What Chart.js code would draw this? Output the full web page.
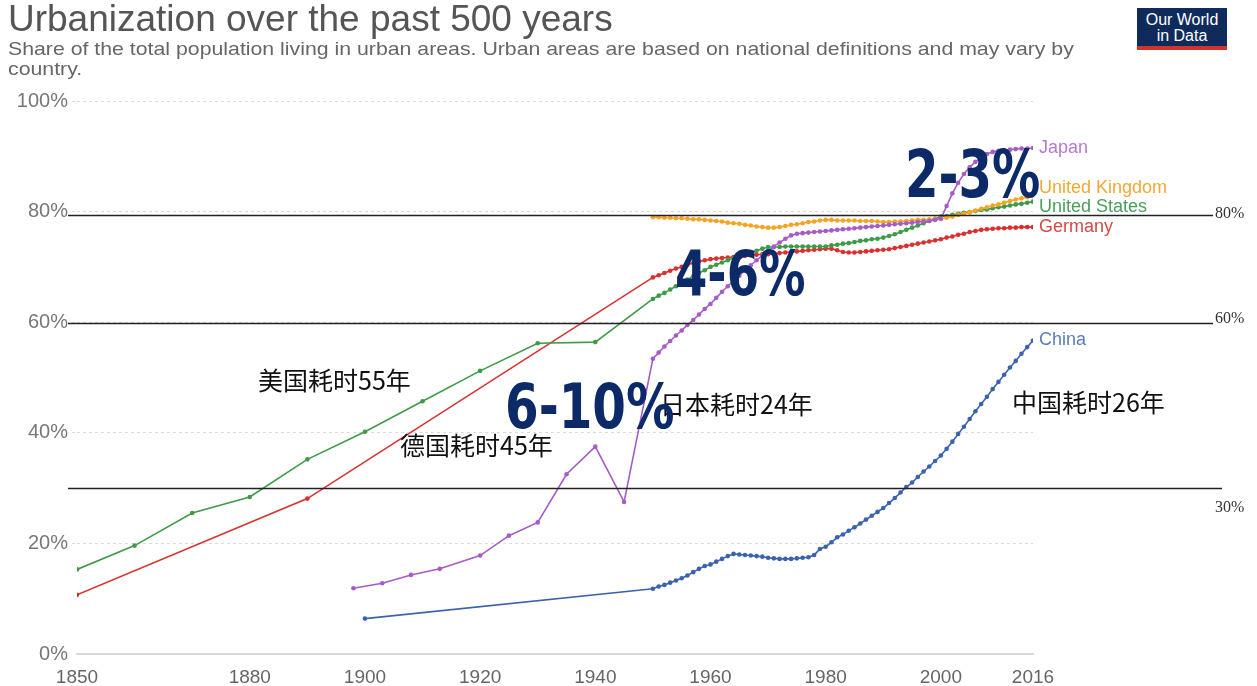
<!DOCTYPE html>
<html>
<head>
<meta charset="utf-8">
<script src="https://cdn.jsdelivr.net/npm/chart.js@4.4.1/dist/chart.umd.min.js"></script>
<style>
html, body { margin: 0; padding: 0; background: #fff; }
#wrap { position: relative; width: 1257px; height: 686px; overflow: hidden; }
#chart-area { position: absolute; left: 0; top: 0; }
.t { position: absolute; white-space: nowrap; }
#title { left: 8px; top: 0px; font: 37px/1 "Liberation Sans", Arial, sans-serif; color: #555; }
#sub { left: 8px; top: 39px; font: 19px/20px "Liberation Sans", Arial, sans-serif; color: #666; transform: scaleX(1.12); transform-origin: 0 0; }
#logo { left: 1137px; top: 8px; width: 90px; height: 42px; background: #0f2b5b; border-bottom: 4px solid #d4332a;
        color: #fff; font: 16px/16px "Liberation Sans", Arial, sans-serif; padding: 4px 0 0 0; text-align: center; box-sizing: border-box; }
.cn { font: 25px/1 "Noto Sans CJK SC", sans-serif; color: #111; }
.big { font: bold 62px/1 "DejaVu Sans", sans-serif; color: #0c2a68; transform-origin: 0 0; }
</style>
</head>
<body>
<div id="wrap">
  <canvas id="chart-area" width="1257" height="686"></canvas>
  <div class="t" id="title">Urbanization over the past 500 years</div>
  <div class="t" id="sub">Share of the total population living in urban areas. Urban areas are based on national definitions and may vary by<br>country.</div>
  <div class="t" id="logo">Our World<br>in Data</div>
  <div class="t cn" style="left:258px;top:367px">美国耗时55年</div>
  <div class="t cn" style="left:400px;top:432px">德国耗时45年</div>
  <div class="t cn" style="left:660px;top:391px">日本耗时24年</div>
  <div class="t cn" style="left:1012px;top:389px">中国耗时26年</div>
  <div class="t big" style="left:505px;top:376px;transform:scaleX(0.78)">6-10%</div>
  <div class="t big" style="left:675px;top:243px;transform:scaleX(0.75)">4-6%</div>
  <div class="t big" style="left:905px;top:142px;font-size:66px;transform:scaleX(0.73)">2-3%</div>
</div>
<script>
// x ticks shown on the axis
var xTickYears = [1850, 1880, 1900, 1920, 1940, 1960, 1980, 2000, 2016];

// yearly points from 1950 on
var annualYears = [1950,1951,1952,1953,1954,1955,1956,1957,1958,1959,1960,1961,1962,1963,1964,1965,1966,1967,1968,1969,
  1970,1971,1972,1973,1974,1975,1976,1977,1978,1979,1980,1981,1982,1983,1984,1985,1986,1987,1988,1989,
  1990,1991,1992,1993,1994,1995,1996,1997,1998,1999,2000,2001,2002,2003,2004,2005,2006,2007,2008,2009,
  2010,2011,2012,2013,2014,2015,2016];

var japanEarlyYears = [1898, 1903, 1908, 1913, 1920, 1925, 1930, 1935, 1940, 1945];
var japanEarly = [11.9, 12.8, 14.3, 15.4, 17.8, 21.4, 23.8, 32.5, 37.5, 27.5];
var japanAnnual = [53.4,54.5,55.6,56.6,57.6,58.5,59.5,60.4,61.4,62.4,
  63.3,64.4,65.5,66.5,67.5,68.4,69.4,70.3,71.2,72.1,
  72.9,73.7,74.4,75.1,75.7,76.0,76.1,76.2,76.3,76.4,
  76.5,76.6,76.7,76.8,76.9,77.0,77.1,77.2,77.3,77.4,
  77.5,77.6,77.7,77.8,77.9,78.0,78.1,78.2,78.3,78.5,
  78.7,81.0,83.3,85.2,86.8,88.0,89.0,89.8,90.4,90.8,
  91.0,91.1,91.2,91.3,91.4,91.4,91.5];

var ukAnnual = [79.0,79.0,78.9,78.9,78.8,78.8,78.7,78.6,78.6,78.5,
  78.4,78.3,78.2,78.0,77.9,77.8,77.6,77.5,77.3,77.2,
  77.1,77.1,77.2,77.4,77.6,77.7,77.9,78.1,78.2,78.4,
  78.5,78.5,78.4,78.4,78.4,78.4,78.3,78.3,78.3,78.2,
  78.1,78.1,78.2,78.2,78.3,78.4,78.5,78.5,78.6,78.7,
  78.7,78.9,79.1,79.4,79.6,79.9,80.2,80.5,80.8,81.1,
  81.3,81.6,81.9,82.2,82.4,82.6,82.8];

var usEarlyYears = [1850, 1860, 1870, 1880, 1890, 1900, 1910, 1920, 1930, 1940];
var usEarly = [15.3, 19.6, 25.5, 28.4, 35.2, 40.2, 45.7, 51.2, 56.2, 56.4];
var usAnnual = [64.2,64.8,65.3,65.9,66.5,67.1,67.7,68.3,68.9,69.4,
  70.0,70.4,70.8,71.2,71.6,71.9,72.3,72.6,72.9,73.3,
  73.6,73.6,73.6,73.7,73.7,73.7,73.7,73.7,73.7,73.7,
  73.7,73.9,74.0,74.2,74.3,74.5,74.7,74.8,75.0,75.1,
  75.3,75.6,75.9,76.3,76.7,77.1,77.5,77.9,78.3,78.7,
  79.1,79.2,79.4,79.6,79.8,79.9,80.1,80.3,80.4,80.6,
  80.8,80.9,81.1,81.3,81.4,81.6,81.8];

var germanyEarlyYears = [1850, 1890];
var germanyEarly = [10.7, 28.1];
var germanyAnnual = [68.1,68.5,68.9,69.3,69.7,70.0,70.4,70.7,71.0,71.2,
  71.4,71.5,71.6,71.7,71.8,71.9,72.0,72.1,72.2,72.3,
  72.3,72.4,72.5,72.6,72.7,72.8,72.9,73.0,73.1,73.2,
  73.3,73.3,73.0,72.7,72.6,72.6,72.7,72.8,72.9,73.0,
  73.1,73.2,73.4,73.6,73.8,74.0,74.2,74.4,74.6,74.8,
  75.0,75.3,75.5,75.8,76.0,76.3,76.5,76.7,76.8,76.9,
  77.0,77.0,77.1,77.1,77.2,77.2,77.2];

var chinaEarlyYears = [1900];
var chinaEarly = [6.4];
var chinaAnnual = [11.8,12.2,12.5,12.9,13.3,13.7,14.2,14.8,15.4,15.9,
  16.2,16.7,17.2,17.7,18.1,18.0,17.9,17.8,17.7,17.6,
  17.4,17.3,17.2,17.2,17.2,17.3,17.4,17.5,17.9,19.0,
  19.4,20.2,21.1,21.6,22.3,22.9,23.6,24.3,25.0,25.7,
  26.4,27.3,28.2,29.2,30.2,31.0,32.0,33.0,33.9,34.9,
  35.9,37.1,38.4,39.8,41.1,42.5,43.9,45.2,46.5,47.9,
  49.2,50.5,51.8,53.0,54.3,55.5,56.7];

var seriesNames = ['Japan', 'United Kingdom', 'United States', 'Germany', 'China'];

// black reference lines drawn over the chart, with their right-hand labels
var refLineValues = [79.3, 59.8, 30];
var refLineLabels = ['80%', '60%', '30%'];

function points(years, values) {
  var out = [];
  for (var i = 0; i < years.length; i++) out.push({x: years[i], y: values[i]});
  return out;
}

var lineColors = ['#a65cc6', '#f4a425', '#3f9a48', '#d93030', '#3b62ad'];
var labelColors = ['#b57ad0', '#f2a834', '#4a9f5a', '#d24a44', '#5a7dc0'];
var labelShift = [0, -8, 5, 0, 0];

function makeSet(i, data) {
  return {
    label: seriesNames[i],
    data: data,
    borderColor: lineColors[i],
    backgroundColor: lineColors[i],
    borderWidth: 1.6,
    pointRadius: 2.3,
    pointBorderWidth: 0,
    tension: 0
  };
}

var endLabels = {
  id: 'endLabels',
  afterDatasetsDraw: function (chart) {
    var ctx = chart.ctx;
    var area = chart.chartArea;
    var y = chart.scales.y;
    ctx.save();
    // reference lines
    ctx.strokeStyle = '#222';
    ctx.lineWidth = 1.5;
    var ends = [1213, 1213, 1222];
    var textShift = [-2, -5, 19];
    for (var r = 0; r < refLineValues.length; r++) {
      var py = Math.round(y.getPixelForValue(refLineValues[r])) + 0.5;
      ctx.beginPath();
      ctx.moveTo(68, py);
      ctx.lineTo(ends[r], py);
      ctx.stroke();
      ctx.fillStyle = '#333';
      ctx.font = '16px "Liberation Serif", serif';
      ctx.textAlign = 'left';
      ctx.textBaseline = 'middle';
      ctx.fillText(refLineLabels[r], 1215, py + textShift[r]);
    }
    // series names at the line ends
    ctx.font = '18px "Liberation Sans", Arial, sans-serif';
    chart.data.datasets.forEach(function (ds, i) {
      var meta = chart.getDatasetMeta(i);
      var last = meta.data[meta.data.length - 1];
      ctx.fillStyle = labelColors[i];
      ctx.fillText(ds.label, area.right + 6, last.y + labelShift[i]);
    });
    ctx.restore();
  }
};

var config = {
  type: 'line',
  data: {
    datasets: [
      makeSet(0, points(japanEarlyYears.concat(annualYears), japanEarly.concat(japanAnnual))),
      makeSet(1, points(annualYears, ukAnnual)),
      makeSet(2, points(usEarlyYears.concat(annualYears), usEarly.concat(usAnnual))),
      makeSet(3, points(germanyEarlyYears.concat(annualYears), germanyEarly.concat(germanyAnnual))),
      makeSet(4, points(chinaEarlyYears.concat(annualYears), chinaEarly.concat(chinaAnnual)))
    ]
  },
  options: {
    responsive: false,
    animation: false,
    layout: { padding: { left: 0, right: 224, top: 101, bottom: 0 } },
    plugins: { legend: { display: false }, tooltip: { enabled: false } },
    scales: {
      x: {
        type: 'linear',
        min: 1850,
        max: 2016,
        afterBuildTicks: function (s) { s.ticks = xTickYears.map(function (v) { return {value: v}; }); },
        afterFit: function (s) { s.height = 32; },
        grid: { display: false, drawTicks: false },
        border: { display: true, color: '#d8d8d8', width: 2 },
        ticks: {
          autoSkip: false, maxRotation: 0, padding: 12, color: '#666',
          font: { size: 19, family: '"Liberation Sans", Arial, sans-serif' },
          callback: function (v) { return String(v); }
        }
      },
      y: {
        min: 0,
        max: 100,
        afterFit: function (s) { s.width = 77; },
        border: { display: false, dash: [3, 3] },
        grid: {
          color: function (c) { return c.tick && c.tick.value === 0 ? 'rgba(0,0,0,0)' : '#dadada'; },
          tickColor: function (c) { return c.tick && c.tick.value === 0 ? 'rgba(0,0,0,0)' : '#dadada'; },
          tickLength: 5,
          tickBorderDash: [3, 3]
        },
        ticks: {
          stepSize: 20, padding: 4, color: '#777',
          font: { size: 20, family: '"Liberation Sans", Arial, sans-serif' },
          callback: function (v) { return v + '%'; }
        }
      }
    }
  },
  plugins: [endLabels]
};

window.onload = function () {
  var ctx = document.getElementById('chart-area').getContext('2d');
  window.myLine = new Chart(ctx, config);
};
</script>
</body>
</html>
